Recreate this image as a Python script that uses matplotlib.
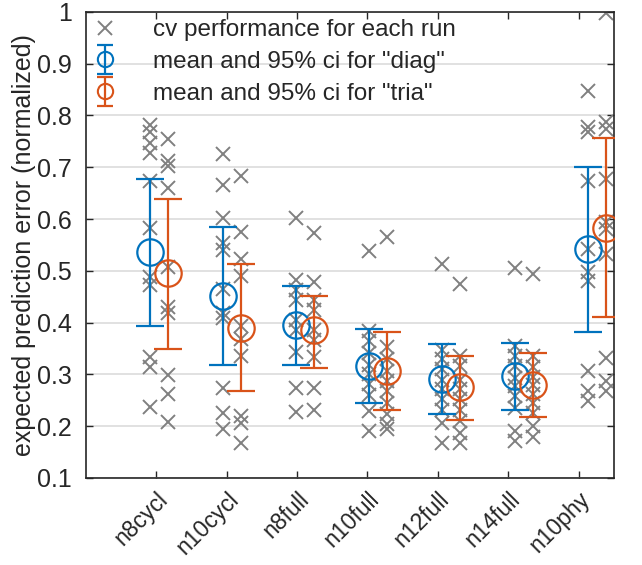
import numpy as np
import matplotlib
matplotlib.use("Agg")
import matplotlib.pyplot as plt
from matplotlib.lines import Line2D
from matplotlib.legend_handler import HandlerErrorbar

plt.rcParams["font.family"] = ["Liberation Sans", "DejaVu Sans"]

categories = ["n8cycl", "n10cycl", "n8full", "n10full", "n12full", "n14full", "n10phy"]

# per-run cv performance
runs_diag = [
    [0.781, 0.768, 0.747, 0.728, 0.673, 0.583, 0.489, 0.473, 0.334, 0.315, 0.237],
    [0.726, 0.666, 0.602, 0.553, 0.541, 0.465, 0.419, 0.408, 0.274, 0.226, 0.194],
    [0.602, 0.483, 0.463, 0.444, 0.405, 0.386, 0.344, 0.273, 0.228],
    [0.539, 0.384, 0.365, 0.342, 0.319, 0.300, 0.281, 0.261, 0.229, 0.190],
    [0.513, 0.348, 0.329, 0.310, 0.290, 0.271, 0.252, 0.232, 0.206, 0.168],
    [0.506, 0.355, 0.335, 0.316, 0.294, 0.277, 0.258, 0.235, 0.190, 0.171],
    [0.847, 0.777, 0.768, 0.674, 0.542, 0.497, 0.481, 0.306, 0.268, 0.248],
]
runs_tria = [
    [0.754, 0.712, 0.702, 0.660, 0.508, 0.431, 0.418, 0.299, 0.263, 0.208],
    [0.684, 0.574, 0.523, 0.490, 0.394, 0.368, 0.335, 0.219, 0.206, 0.168],
    [0.573, 0.479, 0.444, 0.425, 0.386, 0.366, 0.334, 0.273, 0.231],
    [0.565, 0.352, 0.329, 0.306, 0.287, 0.268, 0.245, 0.223, 0.205, 0.195],
    [0.474, 0.335, 0.316, 0.290, 0.271, 0.252, 0.232, 0.210, 0.187, 0.168],
    [0.494, 0.335, 0.315, 0.295, 0.280, 0.262, 0.245, 0.225, 0.200, 0.180],
    [0.997, 0.787, 0.774, 0.677, 0.594, 0.581, 0.532, 0.332, 0.287, 0.268],
]

# mean and 95% ci bounds
mean_diag = [0.537, 0.452, 0.395, 0.317, 0.291, 0.297, 0.542]
lo_diag = [0.394, 0.319, 0.318, 0.245, 0.223, 0.232, 0.382]
hi_diag = [0.677, 0.584, 0.470, 0.388, 0.359, 0.361, 0.700]
mean_tria = [0.495, 0.390, 0.385, 0.307, 0.275, 0.279, 0.583]
lo_tria = [0.350, 0.268, 0.313, 0.232, 0.212, 0.218, 0.411]
hi_tria = [0.639, 0.513, 0.452, 0.381, 0.336, 0.341, 0.756]

BLUE = "#0072BD"
ORANGE = "#D95319"
GRAY = "#808080"
AXC = "#262626"
FS = 18

ticks = np.arange(1, len(categories) + 1)
# groups drift slightly from tick positions in the original
pos_diag = 0.91 + 1.037 * np.arange(len(categories))
pos_tria = pos_diag + 0.255

fig = plt.figure(figsize=(6.42, 5.65), dpi=100)
ax = fig.add_axes([0.134, 0.154, 0.822, 0.825])

for i in range(len(categories)):
    ax.plot([pos_diag[i]] * len(runs_diag[i]), runs_diag[i], "x", color=GRAY,
            ms=10, mew=1.4, zorder=2)
    ax.plot([pos_tria[i]] * len(runs_tria[i]), runs_tria[i], "x", color=GRAY,
            ms=10, mew=1.4, zorder=2)

md, mt = np.array(mean_diag), np.array(mean_tria)
eb1 = ax.errorbar(pos_diag, md, yerr=[md - np.array(lo_diag), np.array(hi_diag) - md],
                  fmt="o", ls="none", color=BLUE, mfc="none", ms=19, mew=1.6,
                  elinewidth=1.6, capsize=10, capthick=1.6, zorder=3)
eb2 = ax.errorbar(pos_tria, mt, yerr=[mt - np.array(lo_tria), np.array(hi_tria) - mt],
                  fmt="o", ls="none", color=ORANGE, mfc="none", ms=19, mew=1.6,
                  elinewidth=1.6, capsize=10, capthick=1.6, zorder=3)

cross_h = Line2D([], [], ls="none", marker="x", color=GRAY, ms=10, mew=1.4)


def small_marker(handle, orig):
    handle.update_from(orig)
    if isinstance(handle, Line2D):
        if handle.get_marker() == "o":
            handle.set_markersize(11)
            handle.set_markeredgewidth(1.5)
        elif handle.get_marker() == "_":
            handle.set_markersize(11)


leg = ax.legend([cross_h, eb1, eb2],
                ["cv performance for each run",
                 'mean and 95% ci for "diag"',
                 'mean and 95% ci for "tria"'],
                loc="upper left", frameon=False, fontsize=17.5,
                handlelength=1.0, handletextpad=1.45, borderaxespad=0.1,
                labelspacing=0.4, borderpad=0.2,
                handler_map={type(eb1): HandlerErrorbar(update_func=small_marker,
                                                        yerr_size=0.6)})
for t in leg.get_texts():
    t.set_color(AXC)

ax.set_xlim(0, 7.5)
ax.set_ylim(0.1, 1.0)
ax.set_yticks(np.arange(0.1, 1.01, 0.1))
ax.set_yticklabels(["0.1", "0.2", "0.3", "0.4", "0.5", "0.6", "0.7", "0.8", "0.9", "1"])
ax.set_xticks(ticks)
ax.set_xticklabels(categories, rotation=45, ha="right", va="top",
                   rotation_mode="anchor", fontsize=16.5)
ax.tick_params(direction="in", top=True, right=True, length=5, width=1,
               colors=AXC)
ax.tick_params(axis="y", labelsize=FS, pad=10)
ax.tick_params(axis="x", pad=7)
for s in ax.spines.values():
    s.set_color(AXC)
    s.set_linewidth(1.2)
ax.yaxis.grid(True, color="#dcdcdc", lw=1.2)
ax.set_axisbelow(True)
ax.set_ylabel("expected prediction error (normalized)", fontsize=FS, color=AXC, labelpad=1)

fig.savefig("out.png", dpi=100)
